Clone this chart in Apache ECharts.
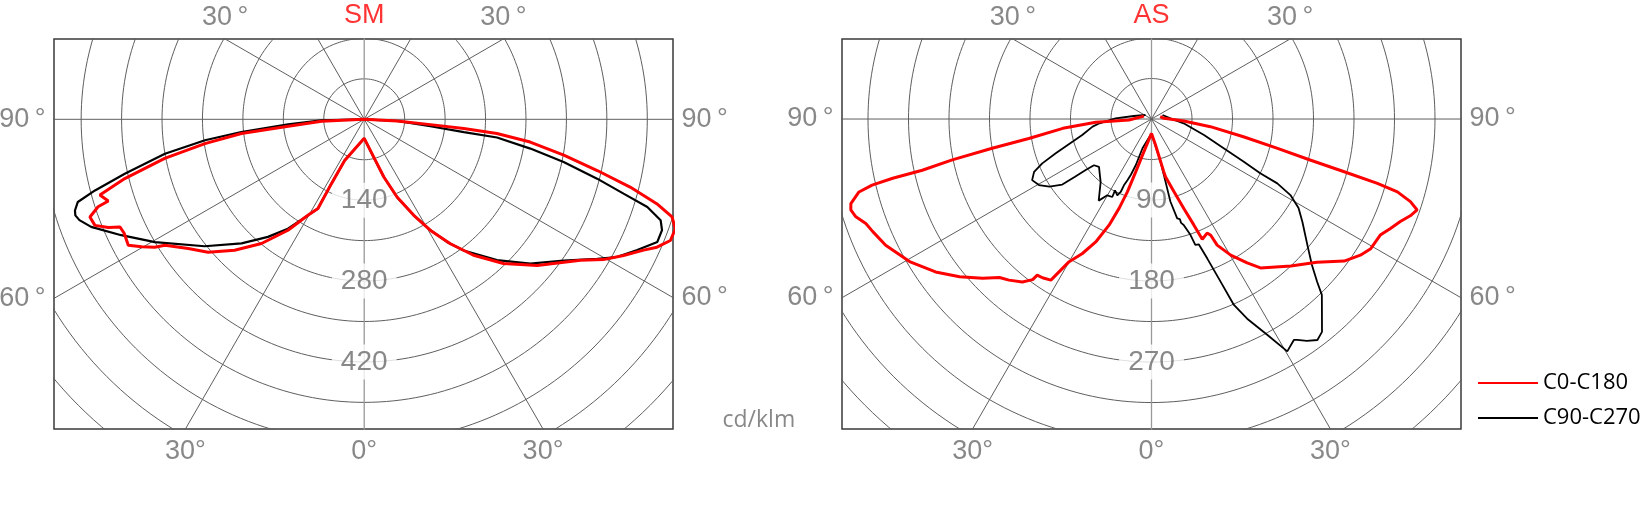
<!DOCTYPE html>
<html>
<head>
<meta charset="utf-8">
<script src="https://cdn.jsdelivr.net/npm/echarts@6/dist/echarts.min.js"></script>
<style>
html,body{margin:0;padding:0;background:#fff;}
#c{width:1646px;height:505px;}
</style>
</head>
<body>
<div id="c"></div>
<script>
// ---------------- DATA (gamma in degrees, negative = left half; intensity in cd/klm) ----------------
const smRedGamma = [-90,-87.3,-84.8,-83.4,-81.3,-78.9,-76.1,-74,-72.3,-71.8,-70.4,-68.5,-67.1,-66.2,-64.6,-61.9,-60.2,-58.6,-57.7,-53.7,-49.6,-44.7,-39.6,-34.5,-30.3,-27.4,-27,-25.4,0,14.1,18.7,22.9,27.3,30.8,34.7,38.8,44,49.8,54.4,56.9,59.6,62.3,64.9,66.4,68.4,70.6,72.4,73.9,75.7,77.6,79.8,82.2,83.9,84.7,85.4,87,90];
const smRedValue = [0,74,132,214,279,352,427,476,465,485,504,501,481,462,460,463,444,425,408,378,355,319,279,233,192,174,125,79,33,67,105,146,187,224,262,302,347,392,425,447,480,507,534,553,570,571,559,527,475,413,351,290,231,173,115,57,0];

const smBlackGamma = [-90,-88.5,-86.2,-84.1,-82.5,-80.2,-77.2,-75.2,-73.9,-72.5,-71.6,-70.5,-68.5,-64.5,-59.6,-51.5,-44.7,-39.3,-34.9,-30.3,-27.4,-27,-25.4,0,14,19,23,27.3,30.8,34,37.2,43.3,49,54.7,59.1,61.4,64.4,67.3,69.6,71.2,72.8,74,75.7,77.9,80,82.2,82.7,84,87,90];
const smBlackValue = [0,74,132,214,278,350,425,482,516,525,527,523,508,466,420,353,302,263,231,192,174,125,79,33,68,107,148,187,223,256,285,335,381,423,470,498,524,550,550,542,513,467,416,353,292,232,174,115,57,0];

const asRedGamma = [-111,-87.4,-86.6,-84,-81,-79.6,-78.4,-77.4,-77.1,-76.7,-76,-74.3,-73.2,-71.7,-69.9,-68,-64.6,-59.5,-54.7,-50.6,-46.7,-43.8,-41.5,-38.4,-36.5,-36.2,-34.5,-32,-30,-27.2,-24.4,-21.8,-19.9,-18.3,-16.6,-14,0,8.7,13.1,13.6,17.1,19.9,21.8,22.9,26,27,27.5,30.2,33.6,36.2,43.5,49.1,53.6,56.9,59.4,63.1,65.4,67.6,69.5,71.1,72.3,73.5,74.1,74.7,75.5,76.9,79.1,82.6,86.5,93,105];
const asRedValue = [9,25,62,99,138,180,226,261,295,319,335,347,349,346,338,334,327,312,294,276,258,244,239,231,222,215,214,211,183,168,150,127,105,85,61,41,16,29,60,66,84,106,127,145,141,145,158,175,192,205,225,243,266,277,283,285,292,299,307,312,302,285,261,222,182,143,104,66,36,14,10];

const asBlackGamma = [-124,-99.6,-91,-85.3,-82.6,-77,-74,-70.3,-67.9,-65.8,-62.9,-59.6,-56.5,-53.7,-53,-52.2,-51.2,-47.6,-38.9,-32.9,-30.1,-26.7,-27.1,-24.1,-22.9,-22.5,-21.5,-20.3,-18.8,-17.1,0,11.9,12.6,12.9,14.5,15.8,15.9,16.9,18.6,19.2,20.7,21.8,23,23.9,25.6,28.2,30.3,32.8,33.4,35,36.9,38.7,44.1,45.5,47.7,51,55.7,58.8,61.3,62.9,63.5,65.2,67.9,73,82.4,92,110];
const asBlackValue = [8,20,40,58,66,79,91,113,131,143,149,145,136,123,107,92,82,79,90,108,98,97,89,93,88,79,73,66,54,34,16,48,71,94,114,115.5,120,123,136,148,149,167,196,226,246,272,299,292,294,301,307,303,272,258,241,223,203,191,176,157,135,113,87,61,36,21,13];

// ring (radial axis) tick labels
const smRingLabels = [140, 280, 420];
const asRingLabels = [90, 180, 270];
// angle labels: [gamma, text]
const angleLabels = [[-120,'30\u2009°'],[120,'30\u2009°'],[-90,'90\u2009°'],[90,'90\u2009°'],[-60,'60\u2009°'],[60,'60\u2009°'],[-30,'30°'],[0,'0°'],[30,'30°']];
const panelTitles = ['SM', 'AS'];
const seriesNames = ['C0-C180', 'C90-C270'];
const unitLabel = 'cd/klm';

// ---------------- LAYOUT / STYLE ----------------
const panels = [
  { title: panelTitles[0], grid: {left: 54, top: 39, width: 619, height: 390},
    x: [-537, 534.5], y: [-536.1, 139], step: 70, rings: smRingLabels,
    red: [smRedGamma, smRedValue], black: [smBlackGamma, smBlackValue], redW: 3, blackW: 2.2 },
  { title: panelTitles[1], grid: {left: 842, top: 39, width: 619, height: 390},
    x: [-343.9, 343.9], y: [-344.4, 88.9], step: 45, rings: asRingLabels,
    red: [asRedGamma, asRedValue], black: [asBlackGamma, asBlackValue], redW: 3, blackW: 1.8 }
];
const LABEL_FONT = "'Liberation Sans',Arimo,sans-serif";
const GRAY = '#5e5e5e';
const TXT = '#6a6a6a';
const rad = d => d * Math.PI / 180;
const toXY = (g, v) => g.map((a, i) => [v[i] * Math.sin(rad(a)), -v[i] * Math.cos(rad(a))]);

const grids = [], xAxes = [], yAxes = [], series = [];
panels.forEach((p, pi) => {
  grids.push(Object.assign({show: true, borderColor: '#3a3a3a', borderWidth: 1.5, backgroundColor: 'transparent'}, p.grid));
  xAxes.push({type: 'value', gridIndex: pi, min: p.x[0], max: p.x[1], show: false});
  yAxes.push({type: 'value', gridIndex: pi, min: p.y[0], max: p.y[1], show: false});
  const ax = {xAxisIndex: pi, yAxisIndex: pi};
  // concentric circles
  for (let k = 1; k <= 13; k++) {
    const r = k * p.step, pts = [];
    for (let a = 0; a <= 360; a += 1.5) pts.push([r * Math.sin(rad(a)), -r * Math.cos(rad(a))]);
    series.push(Object.assign({type: 'line', data: pts, symbol: 'none', silent: true, z: 1,
      lineStyle: {color: GRAY, width: 1}}, ax));
  }
  // radial lines every 30 degrees
  const R = p.step * 14;
  for (let a = 0; a < 360; a += 30) {
    const vertical = (a % 180 === 0);
    series.push(Object.assign({type: 'line', data: [[0, 0], [R * Math.sin(rad(a)), -R * Math.cos(rad(a))]],
      symbol: 'none', silent: true, z: 1,
      lineStyle: {color: vertical ? '#999999' : GRAY, width: vertical ? 1.3 : 1}}, ax));
  }
  // ring value labels on the 0° axis
  series.push(Object.assign({type: 'scatter', silent: true, z: 2, symbolSize: 1, itemStyle: {color: 'transparent'},
    data: p.rings.map(v => ({value: [0, -v], label: {formatter: String(v)}})),
    label: {show: true, position: 'inside', color: TXT, fontFamily: LABEL_FONT, fontSize: 28,
      backgroundColor: '#fff', padding: [4, 9, 3, 9]}}, ax));
  // angle labels at the box edge
  const angData = angleLabels.map(([g, txt]) => {
    const dx = Math.sin(rad(g)), dy = -Math.cos(rad(g));
    let t = Infinity, pos = 'top';
    if (dx > 1e-9) { const tt = p.x[1] / dx; if (tt < t) { t = tt; pos = 'right'; } }
    if (dx < -1e-9) { const tt = p.x[0] / dx; if (tt < t) { t = tt; pos = 'left'; } }
    if (dy > 1e-9) { const tt = p.y[1] / dy; if (tt < t) { t = tt; pos = 'top'; } }
    if (dy < -1e-9) { const tt = p.y[0] / dy; if (tt < t) { t = tt; pos = 'bottom'; } }
    return {value: [dx * t, dy * t], label: {formatter: txt, position: pos,
      distance: (pos === 'left' || pos === 'right') ? 8 : (pos === 'top' ? 7 : 9)}};
  });
  series.push(Object.assign({type: 'scatter', silent: true, clip: false, z: 2, symbolSize: 1, itemStyle: {color: 'transparent'},
    data: angData,
    label: {show: true, color: TXT, fontFamily: LABEL_FONT, fontSize: 27}}, ax));
  // panel title
  series.push(Object.assign({type: 'scatter', silent: true, clip: false, z: 2, symbolSize: 1, itemStyle: {color: 'transparent'},
    data: [{value: [0, p.y[1]], label: {formatter: p.title}}],
    label: {show: true, position: 'top', distance: 9, color: '#ff0000', fontFamily: LABEL_FONT, fontSize: 27}}, ax));
  // curves
  series.push(Object.assign({type: 'line', name: seriesNames[0], data: toXY(p.red[0], p.red[1]), symbol: 'none', z: 4,
    lineStyle: {color: '#ff0000', width: p.redW}, itemStyle: {color: '#ff0000'}}, ax));
  series.push(Object.assign({type: 'line', name: seriesNames[1], data: toXY(p.black[0], p.black[1]), symbol: 'none', z: 3,
    lineStyle: {color: '#000000', width: p.blackW}, itemStyle: {color: '#000000'}}, ax));
});
// unit label between panels, anchored to left panel's bottom-right corner
series.push({type: 'scatter', xAxisIndex: 0, yAxisIndex: 0, silent: true, clip: false, z: 2, symbolSize: 1,
  itemStyle: {color: 'transparent'},
  data: [{value: [panels[0].x[1], panels[0].y[0]], label: {formatter: unitLabel}}],
  label: {show: true, position: 'right', distance: 49, offset: [0, -9], color: TXT,
    fontFamily: "'Open Sans','Liberation Sans',sans-serif", fontSize: 23}});

const chart = echarts.init(document.getElementById('c'), null, {renderer: 'canvas'});
chart.setOption({
  animation: false,
  backgroundColor: '#fff',
  grid: grids, xAxis: xAxes, yAxis: yAxes,
  legend: {data: seriesNames, orient: 'vertical', left: 1478, top: 371, padding: 0, icon: 'rect',
    itemWidth: 60, itemHeight: 2, itemGap: 11, selectedMode: false,
    textStyle: {fontFamily: "'Open Sans','Liberation Sans',sans-serif", fontSize: 22, color: '#000', lineHeight: 24}},
  series: series
});
</script>
</body>
</html>
